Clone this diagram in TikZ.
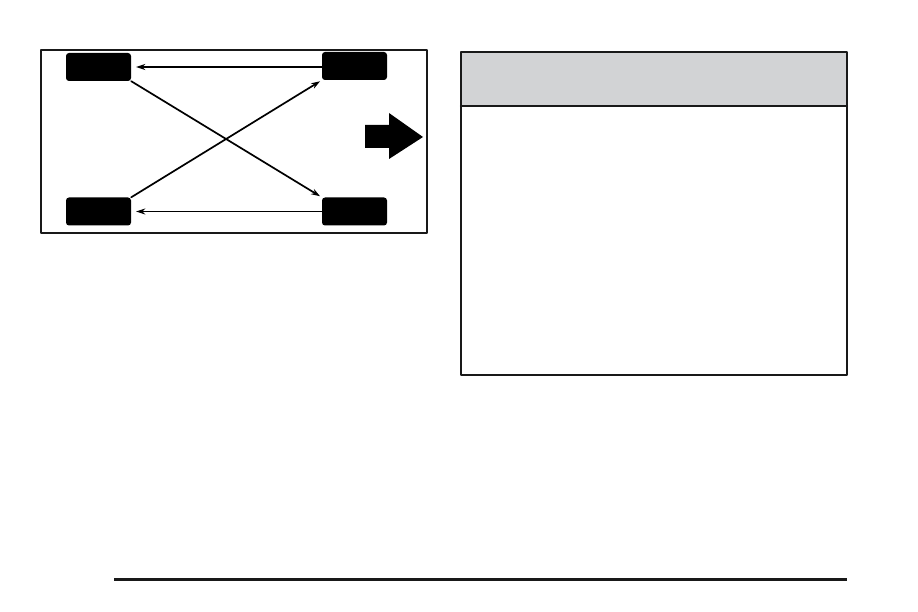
\documentclass[tikz,border=0pt]{standalone}
\usetikzlibrary{arrows.meta}
\definecolor{hdrgray}{RGB}{210,211,213}
\begin{document}
\begin{tikzpicture}[x=1pt,y=-1pt,line cap=round,line join=round,>={Stealth[length=9pt,width=6pt]}]
\tikzset{tire/.style={fill=black,rounded corners=3pt,minimum width=65pt,minimum height=28pt,inner sep=0pt}}
\useasboundingbox (0,0) rectangle (918,612);
% rotation frame
\draw[line width=2pt,color=black!90] (41,50) rectangle (427,233);
\node[tire] (tl) at (98.5,67) {};
\node[tire] (tr) at (354.5,66) {};
\node[tire] (bl) at (98.5,211.5) {};
\node[tire] (br) at (354.5,211.5) {};
\draw[->,line width=1.7pt,shorten >=5pt] (tr.west|-tl.east) -- (tl.east);
\draw[->,line width=1.7pt,shorten >=5pt] (br.west) -- (bl.east);
\draw[->,line width=1.7pt,shorten >=2pt] (tl.south east) -- (br.north west);
\draw[->,line width=1.7pt,shorten >=2pt] (bl.north east) -- (tr.south west);
% direction arrow
\fill (365,125)--(389,125)--(389,113)--(423,137)--(389,159)--(389,148)--(365,148)--cycle;
% caution box
\fill[hdrgray] (461,52) rectangle (847,106);
\draw[line width=2.2pt,color=black!90] (461,52) rectangle (847,375);
\draw[line width=2.2pt,color=black!90] (461,106)--(847,106);
% page rule
\draw[line width=3pt,color=black!90,line cap=butt] (114,579.5)--(847,579.5);
\end{tikzpicture}
\end{document}
